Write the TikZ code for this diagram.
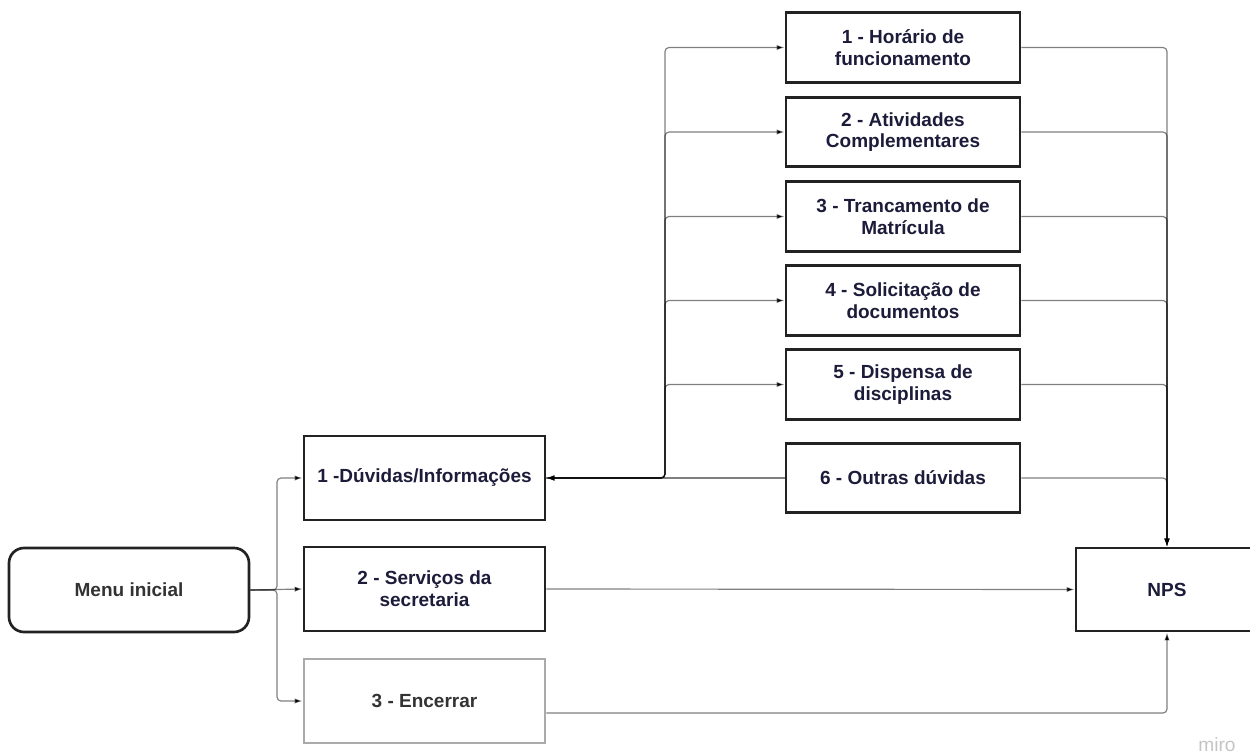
\documentclass[tikz,border=0pt]{standalone}
\usepackage{fontspec}
\setmainfont{Liberation Sans}
\usetikzlibrary{arrows.meta}
\definecolor{txt}{HTML}{1C1C3A}
\definecolor{menutxt}{HTML}{333333}
\definecolor{bord}{HTML}{222222}
\definecolor{encb}{HTML}{AAAAAA}
\definecolor{wm}{HTML}{C4C4C4}
\begin{document}
\begin{tikzpicture}[x=0.6pt,y=-0.6pt,
  box/.style={draw=bord, line width=1.6pt, fill=white,
    font=\bfseries\fontsize{11.4}{13}\selectfont, text=txt, align=center, inner sep=0pt},
  optbox/.style={box, minimum width=140.4pt, minimum height=41.7pt},
  leftbox/.style={box, minimum width=144.6pt, minimum height=50.4pt},
  conn/.style={draw=black, draw opacity=0.5, line width=0.7pt, rounded corners=2.4pt},
  arr/.style={-{Latex[length=4.8pt,width=3.2pt]}},
  biarr/.style={{Latex[length=4.8pt,width=3.2pt]}-{Latex[length=4.8pt,width=3.2pt]}}
]
\useasboundingbox (0,0) rectangle (1250,756);

% nodes
\node[box, rounded corners=9pt, minimum width=144pt, minimum height=50.4pt, text=menutxt] (menu) at (129,590) {Menu inicial};
\node[leftbox] (duv) at (424.5,478) {1 -Dúvidas/Informações};
\node[leftbox] (serv) at (424.5,589) {2 - Serviços da\\secretaria};
\node[leftbox, draw=encb, text=menutxt] (enc) at (424.5,701) {3 - Encerrar};

\node[optbox] (o1) at (903,47.5) {1 - Horário de\\funcionamento};
\node[optbox] (o2) at (903,132) {2 - Atividades\\Complementares};
\node[optbox] (o3) at (903,216.5) {3 - Trancamento de\\Matrícula};
\node[optbox] (o4) at (903,300.5) {4 - Solicitação de\\documentos};
\node[optbox] (o5) at (903,384.5) {5 - Dispensa de\\disciplinas};
\node[optbox] (o6) at (903,478) {6 - Outras dúvidas};

\node[box, minimum width=109.2pt, minimum height=49.8pt] (nps) at (1167,589.5) {NPS};

\coordinate (mt) at (277,590);
\coordinate (lt) at (665,478);

% menu connectors
\foreach \n in {duv,enc} \draw[conn,arr] (menu.east) -- (mt) |- (\n.west);
\draw[conn,arr] (menu.east) -- (serv.west);

% duvidas to options
\foreach \n in {o1,o2,o3,o4,o5} \draw[conn,biarr] (duv.east) -- (lt) |- (\n.west);
\draw[conn] (o6.west) -- (duv.east);

% options to NPS
\foreach \n in {o1,o2,o3,o4,o5,o6} \draw[conn,arr] (\n.east) -| (nps.north);
\draw[conn,arr] (serv.east) -- (nps.west);
\draw[conn,arr] ([yshift=-7.2pt]enc.east) -| (nps.south);

\node[anchor=base, text=wm, font=\fontsize{11.5}{12}\selectfont, inner sep=0pt] (miro) at (1217,751) {miro};
\end{tikzpicture}
\end{document}
